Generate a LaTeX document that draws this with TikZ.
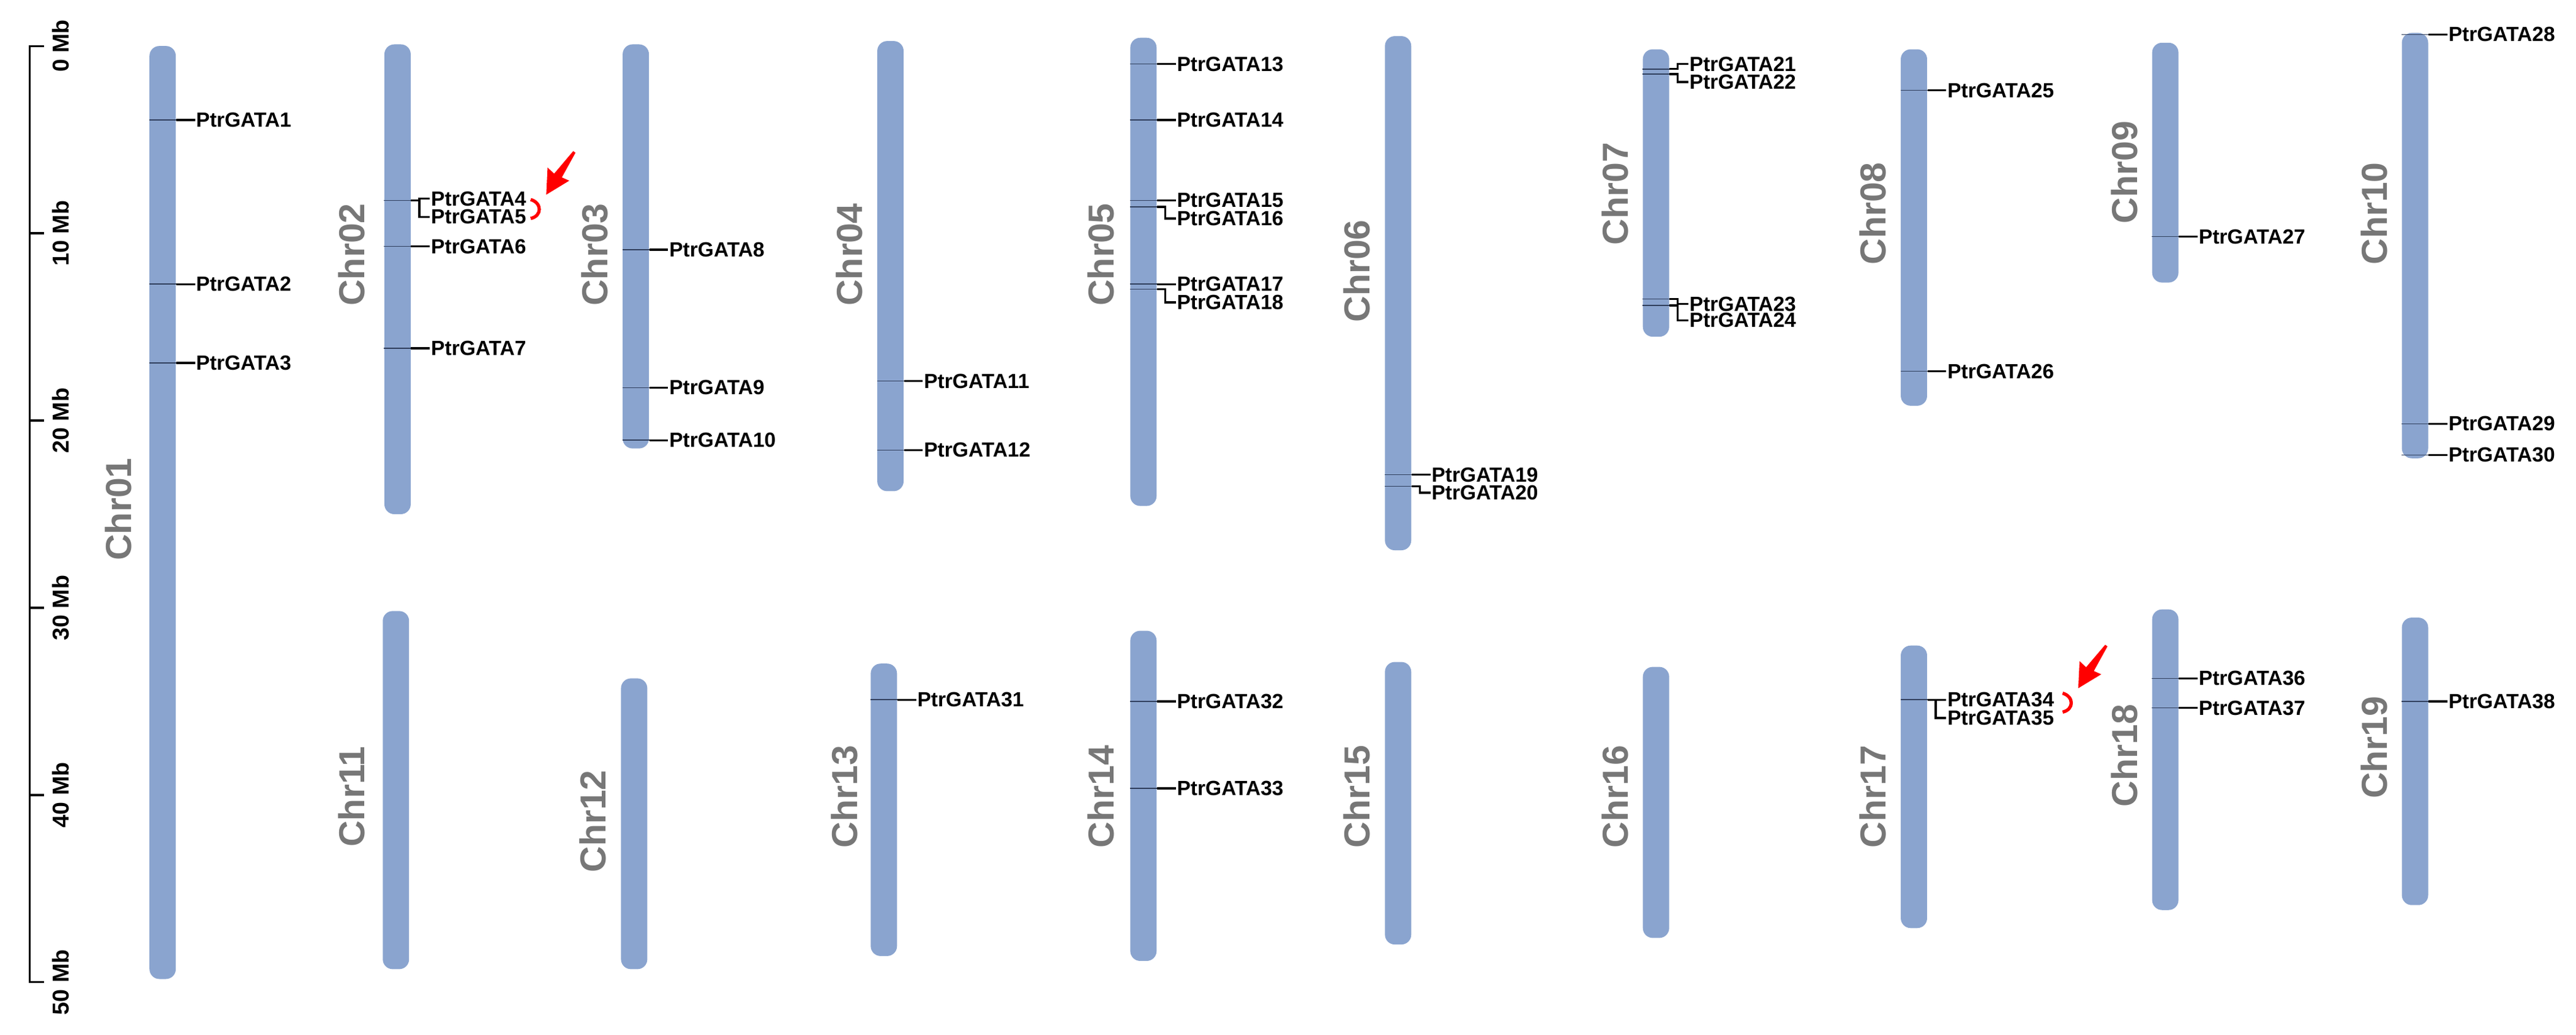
\documentclass[tikz,border=0pt]{standalone}
\usepackage{fontspec}
\setmainfont{Liberation Sans}
\begin{document}
\begin{tikzpicture}[x=1pt,y=-1pt,
 chrom/.style={fill=chrfill,draw=none,rounded corners=6pt,minimum width=16pt,inner sep=0pt},
 chrlab/.style={rotate=90,text=chrgray,font=\fontsize{22}{22}\selectfont\bfseries,inner sep=0pt},
 glabel/.style={anchor=west,inner sep=0pt,font=\fontsize{12.5}{12.5}\selectfont\bfseries},
 tick/.style={draw=chrline,line width=0.6pt},
 conn/.style={draw=black,line width=1.3pt},
 axlab/.style={rotate=90,font=\fontsize{14}{14}\selectfont\bfseries,inner sep=0pt}]
\definecolor{chrfill}{HTML}{8AA4CF}
\definecolor{chrgray}{HTML}{777777}
\definecolor{chrline}{HTML}{2F3E5C}
\useasboundingbox (0,0) rectangle (1568,630);
\newcommand\chr[6]{% name, x, top, bottom, labelx, labely
 \node[chrom,minimum height={#4-#3}] (#1) at (#2,{(#3+#4)/2}) {};
 \node[chrlab] (#1lab) at (#5,#6) {#1};}
\newcommand\gn[4]{% chr, line y, label y, number
 \draw[tick] (#1.west |- 0,#2) -- (#1.east |- 0,#2);
 \node[glabel] (g#4) at ([xshift=12pt]#1.east |- 0,#3) {PtrGATA#4};
 \draw[conn] (#1.east |- 0,#2) -- ++(5,0) |- ([xshift=-0.5pt]g#4.west);}
% axis
\draw[line width=1.2pt] (27,28) coordinate (ax0) -- (18,28) -- (18,598) -- (27,598) coordinate (ax5);
\foreach \k in {0,...,5}{
 \draw[line width=1.2pt] (18,{28+114*\k}) -- (27,{28+114*\k});
 \node[axlab] (ax\k lab) at (37,{28+114*\k}) {\number\numexpr\k*10\relax\ Mb};}
% chromosomes
\chr{Chr01}{99}{28}{596}{72}{310}
\chr{Chr02}{242}{27}{313}{214}{155}
\chr{Chr03}{387}{27}{273}{362}{155}
\chr{Chr04}{542}{25}{299}{517}{155}
\chr{Chr05}{696}{23}{308}{670}{155}
\chr{Chr06}{851}{22}{335}{826}{165}
\chr{Chr07}{1008}{30}{205}{983}{118}
\chr{Chr08}{1165}{30}{247}{1140}{130}
\chr{Chr09}{1318}{26}{172}{1293}{105}
\chr{Chr10}{1470}{20}{279}{1445}{130}
\chr{Chr11}{241}{372}{590}{214}{485}
\chr{Chr12}{386}{413}{590}{361}{500}
\chr{Chr13}{538}{404}{582}{514}{485}
\chr{Chr14}{696}{384}{585}{670}{485}
\chr{Chr15}{851}{403}{575}{826}{485}
\chr{Chr16}{1008}{406}{571}{983}{485}
\chr{Chr17}{1165}{393}{565}{1140}{485}
\chr{Chr18}{1318}{371}{554}{1293}{460}
\chr{Chr19}{1470}{376}{551}{1445}{455}
% genes
\gn{Chr01}{73}{73}{1}\gn{Chr01}{173}{173}{2}\gn{Chr01}{221}{221}{3}
\gn{Chr02}{122}{121}{4}\gn{Chr02}{122}{132}{5}\gn{Chr02}{150}{150}{6}\gn{Chr02}{212}{212}{7}
\gn{Chr03}{152}{152}{8}\gn{Chr03}{236}{236}{9}\gn{Chr03}{268}{268}{10}
\gn{Chr04}{232}{232}{11}\gn{Chr04}{274}{274}{12}
\gn{Chr05}{39}{39}{13}\gn{Chr05}{73}{73}{14}\gn{Chr05}{122}{122}{15}\gn{Chr05}{126}{133}{16}
\gn{Chr05}{173}{173}{17}\gn{Chr05}{176}{184}{18}
\gn{Chr06}{289}{289}{19}\gn{Chr06}{296}{300}{20}
\gn{Chr07}{42}{39}{21}\gn{Chr07}{45}{50}{22}\gn{Chr07}{182}{185}{23}\gn{Chr07}{186}{195}{24}
\gn{Chr08}{55}{55}{25}\gn{Chr08}{226}{226}{26}
\gn{Chr09}{144}{144}{27}
\gn{Chr10}{21}{21}{28}\gn{Chr10}{258}{258}{29}\gn{Chr10}{277}{277}{30}
\gn{Chr13}{426}{426}{31}
\gn{Chr14}{427}{427}{32}\gn{Chr14}{480}{480}{33}
\gn{Chr17}{426}{426}{34}\gn{Chr17}{426}{437}{35}
\gn{Chr18}{413}{413}{36}\gn{Chr18}{431}{431}{37}
\gn{Chr19}{427}{427}{38}
% red markers
\foreach \sx/\sy/\n in {0/0/a,932.5/300.5/b}{
 \begin{scope}[shift={(332.5+\sx,118.5+\sy)}]
  \fill[red] (0,0) -- (14,-8.5) -- (9.5,-10.5) -- (17.8,-25.5) -- (16.4,-26.5) -- (4.8,-12.8) -- (0.8,-16.5) -- cycle;
  \draw[red,line width=2pt] (-9.5,3) coordinate (br\n1) .. controls (-2.5,5) and (-2.5,13) .. (-9.5,14.5) coordinate (br\n2);
 \end{scope}}
\end{tikzpicture}
\end{document}
